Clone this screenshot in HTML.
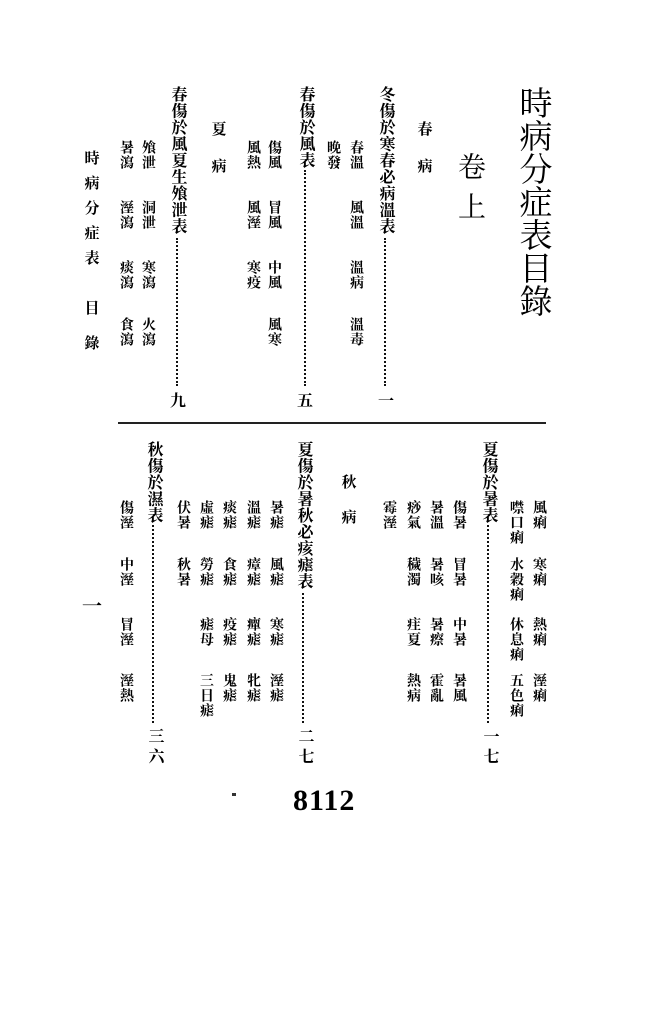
<!DOCTYPE html>
<html><head><meta charset="utf-8"><style>
html,body{margin:0;padding:0;background:#fff;}
body{width:663px;height:1024px;position:relative;overflow:hidden;font-family:"Liberation Serif","Noto Serif CJK SC","Noto Sans CJK TC",serif;color:#000;}
.v{position:absolute;writing-mode:vertical-rl;transform:translateX(-50%);white-space:nowrap;line-height:1;}
.s{font-size:14px;letter-spacing:1px;font-weight:bold;}
.h{font-size:16px;letter-spacing:0.5px;font-weight:bold;}
.d{position:absolute;border-left:2px dotted #111;width:0;}
.n{position:absolute;font-size:16px;transform:translateX(-50%);font-weight:bold;}
</style></head><body>
<div class="v" style="left:532px;top:86px;font-size:33px;">時病分症表目錄</div>
<div class="v" style="left:469px;top:152px;font-size:28px;letter-spacing:12px;">卷上</div>
<div class="v" style="left:423px;top:121px;font-size:15px;letter-spacing:22px;font-weight:bold;">春病</div>

<div class="v h" style="left:385px;top:86px;">冬傷於寒春必病溫表</div>
<div class="d" style="left:384px;top:238px;height:148px;"></div>
<div class="n" style="left:386px;top:388px;">一</div>
<div class="v s" style="left:355px;top:140px;">春溫</div>
<div class="v s" style="left:355px;top:200px;">風溫</div>
<div class="v s" style="left:355px;top:260px;">溫病</div>
<div class="v s" style="left:355px;top:317px;">溫毒</div>
<div class="v s" style="left:332px;top:140px;">晚發</div>

<div class="v h" style="left:305px;top:86px;">春傷於風表</div>
<div class="d" style="left:304px;top:170px;height:216px;"></div>
<div class="n" style="left:305px;top:388px;">五</div>
<div class="v s" style="left:273px;top:140px;">傷風</div>
<div class="v s" style="left:273px;top:200px;">冒風</div>
<div class="v s" style="left:273px;top:260px;">中風</div>
<div class="v s" style="left:273px;top:317px;">風寒</div>
<div class="v s" style="left:252px;top:140px;">風熱</div>
<div class="v s" style="left:252px;top:200px;">風溼</div>
<div class="v s" style="left:252px;top:260px;">寒疫</div>

<div class="v" style="left:217px;top:121px;font-size:15px;letter-spacing:22px;font-weight:bold;">夏病</div>

<div class="v h" style="left:177px;top:86px;">春傷於風夏生飧泄表</div>
<div class="d" style="left:176px;top:238px;height:148px;"></div>
<div class="n" style="left:178px;top:388px;">九</div>
<div class="v s" style="left:147px;top:140px;">飧泄</div>
<div class="v s" style="left:147px;top:200px;">洞泄</div>
<div class="v s" style="left:147px;top:260px;">寒瀉</div>
<div class="v s" style="left:147px;top:317px;">火瀉</div>
<div class="v s" style="left:125px;top:140px;">暑瀉</div>
<div class="v s" style="left:125px;top:200px;">溼瀉</div>
<div class="v s" style="left:125px;top:260px;">痰瀉</div>
<div class="v s" style="left:125px;top:317px;">食瀉</div>

<div class="v" style="left:90px;top:150px;font-size:15px;letter-spacing:10px;font-weight:bold;">時病分症表</div>
<div class="v" style="left:90px;top:300px;font-size:15px;letter-spacing:20px;font-weight:bold;">目錄</div>

<div style="position:absolute;left:118px;top:422px;width:428px;border-top:2px solid #222;"></div>

<div class="v h" style="left:488px;top:441px;">夏傷於暑表</div>
<div class="d" style="left:487px;top:525px;height:198px;"></div>
<div class="v" style="left:489px;top:728px;font-size:16px;letter-spacing:4px;font-weight:bold;">一七</div>
<div class="v s" style="left:538px;top:500px;">風痢</div>
<div class="v s" style="left:538px;top:557px;">寒痢</div>
<div class="v s" style="left:538px;top:617px;">熱痢</div>
<div class="v s" style="left:538px;top:673px;">溼痢</div>
<div class="v s" style="left:515px;top:500px;">噤口痢</div>
<div class="v s" style="left:515px;top:557px;">水穀痢</div>
<div class="v s" style="left:515px;top:617px;">休息痢</div>
<div class="v s" style="left:515px;top:673px;">五色痢</div>
<div class="v s" style="left:458px;top:500px;">傷暑</div>
<div class="v s" style="left:458px;top:557px;">冒暑</div>
<div class="v s" style="left:458px;top:617px;">中暑</div>
<div class="v s" style="left:458px;top:673px;">暑風</div>
<div class="v s" style="left:435px;top:500px;">暑溫</div>
<div class="v s" style="left:435px;top:557px;">暑咳</div>
<div class="v s" style="left:435px;top:617px;">暑瘵</div>
<div class="v s" style="left:435px;top:673px;">霍亂</div>
<div class="v s" style="left:412px;top:500px;">痧氣</div>
<div class="v s" style="left:412px;top:557px;">穢濁</div>
<div class="v s" style="left:412px;top:617px;">疰夏</div>
<div class="v s" style="left:412px;top:673px;">熱病</div>
<div class="v s" style="left:388px;top:500px;">霉溼</div>

<div class="v" style="left:347px;top:474px;font-size:15px;letter-spacing:20px;font-weight:bold;">秋病</div>

<div class="v h" style="left:303px;top:441px;">夏傷於暑秋必痎瘧表</div>
<div class="d" style="left:302px;top:593px;height:130px;"></div>
<div class="v" style="left:304px;top:728px;font-size:16px;letter-spacing:4px;font-weight:bold;">二七</div>
<div class="v s" style="left:275px;top:500px;">暑瘧</div>
<div class="v s" style="left:275px;top:557px;">風瘧</div>
<div class="v s" style="left:275px;top:617px;">寒瘧</div>
<div class="v s" style="left:275px;top:673px;">溼瘧</div>
<div class="v s" style="left:252px;top:500px;">溫瘧</div>
<div class="v s" style="left:252px;top:557px;">瘴瘧</div>
<div class="v s" style="left:252px;top:617px;">癉瘧</div>
<div class="v s" style="left:252px;top:673px;">牝瘧</div>
<div class="v s" style="left:228px;top:500px;">痰瘧</div>
<div class="v s" style="left:228px;top:557px;">食瘧</div>
<div class="v s" style="left:228px;top:617px;">疫瘧</div>
<div class="v s" style="left:228px;top:673px;">鬼瘧</div>
<div class="v s" style="left:205px;top:500px;">虛瘧</div>
<div class="v s" style="left:205px;top:557px;">勞瘧</div>
<div class="v s" style="left:205px;top:617px;">瘧母</div>
<div class="v s" style="left:205px;top:673px;">三日瘧</div>
<div class="v s" style="left:182px;top:500px;">伏暑</div>
<div class="v s" style="left:182px;top:557px;">秋暑</div>

<div class="v h" style="left:153px;top:441px;">秋傷於濕表</div>
<div class="d" style="left:152px;top:525px;height:198px;"></div>
<div class="v" style="left:154px;top:728px;font-size:16px;letter-spacing:4px;font-weight:bold;">三六</div>
<div class="v s" style="left:125px;top:500px;">傷溼</div>
<div class="v s" style="left:125px;top:557px;">中溼</div>
<div class="v s" style="left:125px;top:617px;">冒溼</div>
<div class="v s" style="left:125px;top:673px;">溼熱</div>

<div class="n" style="left:92px;top:590px;font-size:20px;">一</div>
<div style="position:absolute;left:293px;top:784px;font-size:30px;font-family:'Liberation Serif',serif;font-weight:bold;letter-spacing:1px;">8112</div>
<div style="position:absolute;left:232px;top:793px;width:4px;height:3px;background:#333;"></div>
</body></html>
